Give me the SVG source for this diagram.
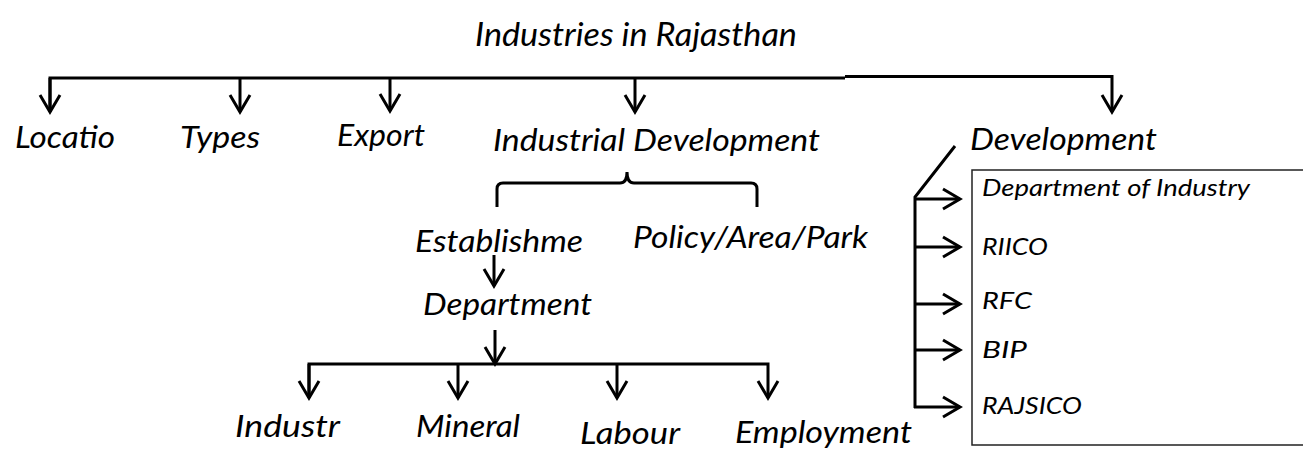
<svg xmlns="http://www.w3.org/2000/svg" width="1303" height="450" viewBox="0 0 1303 450">
<defs>
<style>
.t{font-family:"Lato","Liberation Sans",sans-serif;font-style:italic;font-weight:400;fill:#000;}
.big{font-size:32px;}
.mid{font-size:31px;}
.sm{font-size:23px;}
.ln{fill:none;stroke:#000;stroke-width:3;}
.box{fill:none;stroke:#222;stroke-width:1.5;}
</style>
<marker id="v" viewBox="-20 -12 24 24" markerUnits="userSpaceOnUse" markerWidth="24" markerHeight="24" refX="0" refY="0" orient="auto">
<path d="M-17,-10 L0,0 L-17,10" fill="none" stroke="#000" stroke-width="3"/>
</marker>
</defs>
<rect width="1303" height="450" fill="#fff"/>

<g id="connectors">
<path class="ln" d="M50,112 V78 H845"/>
<path class="ln" d="M845,76.5 H1112 V112" marker-end="url(#v)"/>
<line class="ln" x1="50" y1="78" x2="50" y2="112" marker-end="url(#v)"/>
<line class="ln" x1="240" y1="78" x2="240" y2="112" marker-end="url(#v)"/>
<line class="ln" x1="390" y1="78" x2="390" y2="111" marker-end="url(#v)"/>
<line class="ln" x1="635" y1="78" x2="635" y2="112" marker-end="url(#v)"/>
<path class="ln" d="M497,207 V189 Q497,183 503,183 H620 Q627,183 627,172 Q627,183 634,183 H751 Q757,183 757,189 V207"/>
<line class="ln" x1="494" y1="255" x2="494" y2="286" marker-end="url(#v)"/>
<line class="ln" x1="495" y1="330" x2="495" y2="364" marker-end="url(#v)"/>
<path class="ln" d="M309,398 V364 H768 V398" marker-end="url(#v)"/>
<line class="ln" x1="309" y1="364" x2="309" y2="398" marker-end="url(#v)"/>
<line class="ln" x1="458" y1="364" x2="458" y2="398" marker-end="url(#v)"/>
<line class="ln" x1="617" y1="364" x2="617" y2="398" marker-end="url(#v)"/>
<path class="ln" d="M955,146 L915,197 V408"/>
<line class="ln" x1="914" y1="199" x2="960" y2="199" marker-end="url(#v)"/>
<line class="ln" x1="914" y1="247" x2="960" y2="247" marker-end="url(#v)"/>
<line class="ln" x1="914" y1="304" x2="960" y2="304" marker-end="url(#v)"/>
<line class="ln" x1="914" y1="350" x2="960" y2="350" marker-end="url(#v)"/>
<line class="ln" x1="914" y1="407" x2="960" y2="407" marker-end="url(#v)"/>
</g>

<g id="title"><text class="t big" x="475" y="46" textLength="322" lengthAdjust="spacingAndGlyphs">Industries in Rajasthan</text></g>
<g id="n-locatio"><text class="t mid" x="15" y="148" textLength="100" lengthAdjust="spacingAndGlyphs">Locatio</text></g>
<g id="n-types"><text class="t mid" x="180" y="148" textLength="80" lengthAdjust="spacingAndGlyphs">Types</text></g>
<g id="n-export"><text class="t mid" x="337" y="146" textLength="88" lengthAdjust="spacingAndGlyphs">Export</text></g>
<g id="n-inddev"><text class="t mid" x="493" y="151" textLength="327" lengthAdjust="spacingAndGlyphs">Industrial Development</text></g>
<g id="n-dev"><text class="t mid" x="970" y="150" textLength="187" lengthAdjust="spacingAndGlyphs">Development</text></g>
<g id="n-estab"><text class="t mid" x="415" y="252" textLength="168" lengthAdjust="spacingAndGlyphs">Establishme</text></g>
<g id="n-policy"><text class="t mid" x="633" y="248" textLength="235" lengthAdjust="spacingAndGlyphs">Policy/Area/Park</text></g>
<g id="n-dept"><text class="t mid" x="423" y="315" textLength="169" lengthAdjust="spacingAndGlyphs">Department</text></g>
<g id="n-industr"><text class="t mid" x="235" y="437" textLength="105" lengthAdjust="spacingAndGlyphs">Industr</text></g>
<g id="n-mineral"><text class="t mid" x="416" y="437" textLength="104" lengthAdjust="spacingAndGlyphs">Mineral</text></g>
<g id="n-labour"><text class="t mid" x="580" y="444" textLength="100" lengthAdjust="spacingAndGlyphs">Labour</text></g>
<g id="n-employ"><text class="t mid" x="735" y="443" textLength="177" lengthAdjust="spacingAndGlyphs">Employment</text></g>

<g id="n-devbox">
<path class="box" d="M1303,170 H972 V445 H1303"/>
<text class="t sm" x="982" y="196" textLength="268" lengthAdjust="spacingAndGlyphs">Department of Industry</text>
<text class="t sm" x="982" y="255" textLength="66" lengthAdjust="spacingAndGlyphs">RIICO</text>
<text class="t sm" x="982" y="309" textLength="50" lengthAdjust="spacingAndGlyphs">RFC</text>
<text class="t sm" x="982" y="358" textLength="45" lengthAdjust="spacingAndGlyphs">BIP</text>
<text class="t sm" x="982" y="414" textLength="100" lengthAdjust="spacingAndGlyphs">RAJSICO</text>
</g>
</svg>
